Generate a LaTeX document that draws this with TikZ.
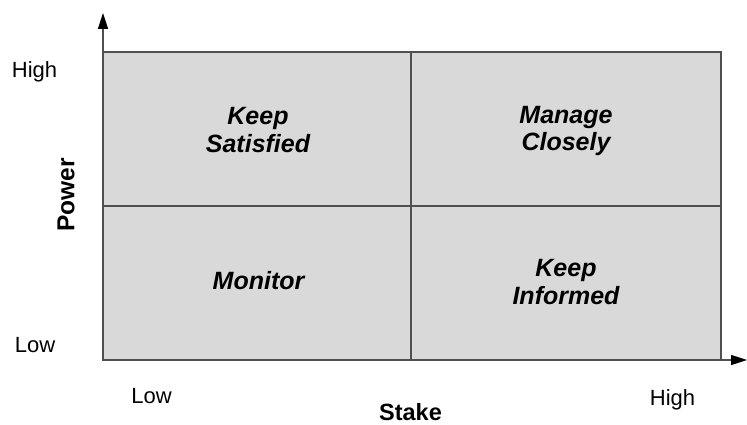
\documentclass[tikz,border=0pt]{standalone}
\usepackage{fontspec}
\setmainfont{Liberation Sans}
\usetikzlibrary{arrows.meta}
\definecolor{quadfill}{HTML}{D9D9D9}
\definecolor{edgecol}{HTML}{505050}
\begin{document}
\begin{tikzpicture}[x=1pt,y=-1pt,
  quadlabel/.style={font=\fontsize{25}{28}\selectfont\bfseries\itshape, align=center, text=black, anchor=base, inner sep=0pt},
  axlabel/.style={font=\fontsize{22}{25}\selectfont, text=black, anchor=base, inner sep=0pt},
  axtitle/.style={font=\fontsize{23.5}{26}\selectfont\bfseries, text=black, inner sep=0pt},
  gridline/.style={draw=edgecol, line width=1.6pt},
  axisline/.style={draw=edgecol, line width=1.6pt, -{Triangle[length=16pt,width=10pt,color=black,fill=black]}}]
\useasboundingbox (0,0) rectangle (747,425);
\fill[white] (0,0) rectangle (747,425);
\coordinate (o) at (103,360);
\coordinate (ytip) at (103,13);
\coordinate (xtip) at (747,360);
\fill[quadfill] (103,52) rectangle (721,360);
\draw[gridline] (103,52) rectangle (721,360);
\draw[gridline] (411,52) -- (411,360);
\draw[gridline] (103,206) -- (721,206);
\draw[axisline] (o) -- (ytip);
\draw[axisline] (o) -- (xtip);
\node[quadlabel] (ks) at (258,153) {Keep\\Satisfied};
\node[quadlabel] (mc) at (566,151) {Manage\\Closely};
\node[quadlabel] (mo) at (258.5,289) {Monitor};
\node[quadlabel] (ki) at (566,304) {Keep\\Informed};
\node[axlabel] (yh) at (34.5,78) {High};
\node[axlabel] (yl) at (35,352) {Low};
\node[axtitle, font=\fontsize{24.5}{27}\selectfont\bfseries, rotate=90] (pw) at (66,195) {Power};
\node[axlabel] (xl) at (151.5,403) {Low};
\node[axlabel] (xh) at (672.5,405) {High};
\node[axtitle, anchor=base] (st) at (410.5,420) {Stake};
\end{tikzpicture}
\end{document}
